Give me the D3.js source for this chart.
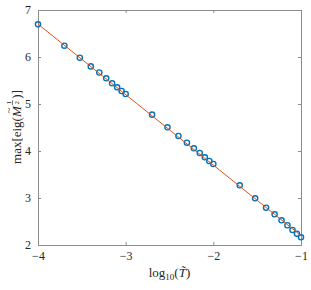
<!DOCTYPE html>
<html>
<head>
<meta charset="utf-8">
<script src="https://cdn.jsdelivr.net/npm/d3@7"></script>
<style>
  body { margin: 0; background: #fff; }
  svg text { font-family: "Liberation Serif", "DejaVu Serif", serif; fill: #262626; }
</style>
</head>
<body>
<script>
// log10(T) sample positions: 1..9 x 10^-4 .. 10^-1
const logT = [
  -4, -3.699, -3.523, -3.398, -3.301, -3.222, -3.155, -3.097, -3.046,
  -3, -2.699, -2.523, -2.398, -2.301, -2.222, -2.155, -2.097, -2.046,
  -2, -1.699, -1.523, -1.398, -1.301, -1.222, -1.155, -1.097, -1.046, -1
];
const maxEig = [
  6.695, 6.24, 5.985, 5.80, 5.67, 5.547, 5.44, 5.355, 5.277,
  5.213, 4.773, 4.504, 4.319, 4.177, 4.057, 3.957, 3.866, 3.787,
  3.723, 3.27, 2.994, 2.794, 2.653, 2.526, 2.42, 2.32, 2.24, 2.164
];
const fitX = [-4, -1];
const fitY = [6.70, 2.20];
const xTicks = [-4, -3, -2, -1];
const yTicks = [2, 3, 4, 5, 6, 7];

const W = 311, H = 290;
const m = {left: 38, top: 10, right: 10, bottom: 45};

const svg = d3.select("body").append("svg").attr("width", W).attr("height", H);

const x = d3.scaleLinear().domain([-4, -1]).range([m.left, W - m.right]);
const y = d3.scaleLinear().domain([2, 7]).range([H - m.bottom, m.top]);

const axisColor = "#8c8c8c";
const tick = 3;

function styleAxis(g) {
  g.select(".domain").remove();
  g.selectAll(".tick line").attr("stroke", axisColor);
  g.selectAll(".tick text").attr("font-size", 12).attr("fill", "#262626")
    .style("font-family", "'Liberation Serif', serif");
}

svg.append("g").attr("transform", `translate(0,${y(2)})`)
  .call(d3.axisBottom(x).tickValues(xTicks).tickSize(-tick).tickPadding(6).tickFormat(d3.format("d")))
  .call(styleAxis);
svg.append("g").attr("transform", `translate(0,${y(7)})`)
  .call(d3.axisTop(x).tickValues(xTicks).tickSize(-tick).tickFormat(""))
  .call(styleAxis);
svg.append("g").attr("transform", `translate(${x(-4)},0)`)
  .call(d3.axisLeft(y).tickValues(yTicks).tickSize(-tick).tickPadding(7).tickFormat(d3.format("d")))
  .call(styleAxis);
svg.append("g").attr("transform", `translate(${x(-1)},0)`)
  .call(d3.axisRight(y).tickValues(yTicks).tickSize(-tick).tickFormat(""))
  .call(styleAxis);

svg.append("rect")
  .attr("x", x(-4)).attr("y", y(7))
  .attr("width", x(-1) - x(-4)).attr("height", y(2) - y(7))
  .attr("fill", "none").attr("stroke", axisColor).attr("shape-rendering", "crispEdges");

// data markers
svg.append("g").selectAll("circle")
  .data(logT.map((d, i) => [d, maxEig[i]]))
  .enter().append("circle")
  .attr("cx", d => x(d[0])).attr("cy", d => y(d[1]))
  .attr("r", 2.6)
  .attr("fill", "none").attr("stroke", "#0072BD").attr("stroke-width", 1.4);

// fitted line
svg.append("path")
  .datum(fitX.map((d, i) => [d, fitY[i]]))
  .attr("d", d3.line().x(d => x(d[0])).y(d => y(d[1])))
  .attr("fill", "none").attr("stroke", "#D95319").attr("stroke-width", 1);

// x label: log10(T~)
const xl = svg.append("text").attr("x", (x(-4) + x(-1)) / 2).attr("y", 277)
  .attr("text-anchor", "middle").attr("font-size", 13);
xl.append("tspan").text("log");
xl.append("tspan").attr("font-size", 9).attr("dy", 3).text("10");
xl.append("tspan").attr("dy", -3).text("(");
xl.append("tspan").attr("font-style", "italic").text("T\u0303");
xl.append("tspan").text(")");

// y label: max[eig(M~^(1/2))]
const yl = svg.append("g").attr("transform", "translate(21,127) rotate(-90)");
const fs = 13;
let cx = 0;
function addText(str, opts = {}) {
  const t = yl.append("text").attr("x", cx).attr("y", 0)
    .attr("font-size", fs).text(str);
  if (opts.italic) t.attr("font-style", "italic");
  const w = t.node().getComputedTextLength();
  const start = cx;
  cx += w + (opts.gap || 0);
  return {t, start, w};
}
addText("max[eig(");
const mm = addText("M", {italic: true, gap: 0.5});
yl.append("text").attr("x", mm.start + mm.w / 2 + 1).attr("y", -9)
  .attr("text-anchor", "middle").attr("font-size", 11).text("~");
// small stacked fraction 1/2
const fx = cx + 3;
yl.append("text").attr("x", fx).attr("y", -10).attr("text-anchor", "middle")
  .attr("font-size", 7).text("1");
yl.append("line").attr("x1", fx - 2.5).attr("x2", fx + 2.5).attr("y1", -8.5).attr("y2", -8.5)
  .attr("stroke", "#262626").attr("stroke-width", 0.6);
yl.append("text").attr("x", fx).attr("y", -2.5).attr("text-anchor", "middle")
  .attr("font-size", 7).text("2");
cx = fx + 4;
addText(")]");
const total = cx;
yl.selectAll("text, line").attr("transform", `translate(${-total / 2},0)`);
</script>
</body>
</html>
